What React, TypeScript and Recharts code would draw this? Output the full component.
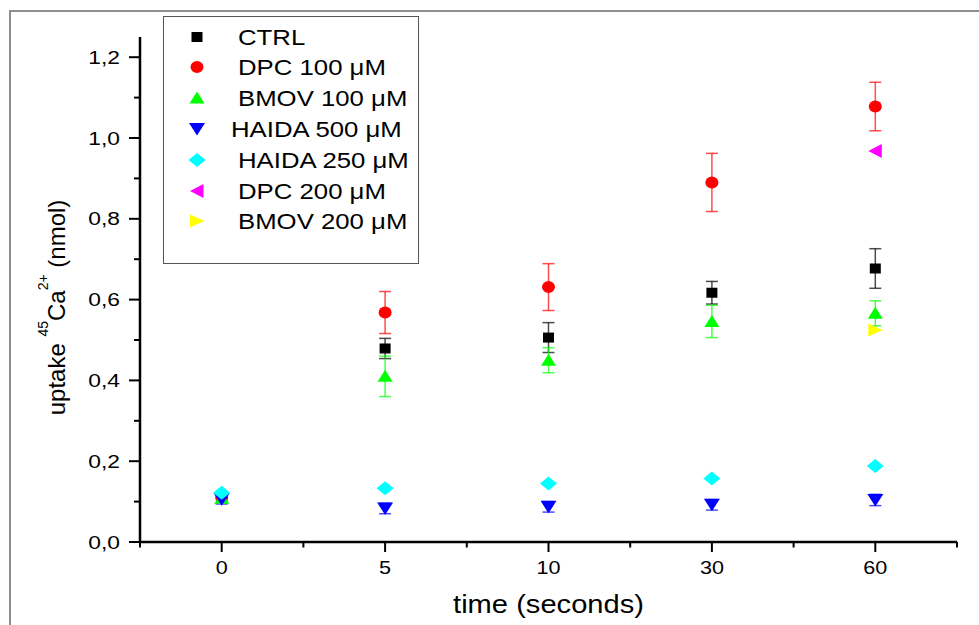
import React from 'react'
import { ScatterChart, Scatter, XAxis, YAxis, ErrorBar, Legend } from 'recharts'

// time points (seconds), evenly spaced on the axis
const categories = ['0', '5', '10', '30', '60']

const ctrl = [0.11, 0.479, 0.506, 0.617, 0.677]
const ctrlErr = [null, 0.025, 0.037, 0.028, 0.049]
const dpc100 = [0.11, 0.568, 0.631, 0.89, 1.078]
const dpc100Err = [null, 0.052, 0.058, 0.072, 0.06]
const bmov100 = [0.108, 0.41, 0.45, 0.546, 0.566]
const bmov100Err = [null, 0.05, 0.031, 0.04, 0.031]
const haida500 = [0.106, 0.083, 0.087, 0.092, 0.104]
const haida500Err = [0.012, 0.013, 0.013, 0.013, 0.014]
const haida250 = [0.122, 0.133, 0.145, 0.157, 0.188]
const dpc200 = [null, null, null, null, 0.968]
const bmov200 = [null, null, null, null, 0.525]

const yTicks = [0, 0.1, 0.2, 0.3, 0.4, 0.5, 0.6, 0.7, 0.8, 0.9, 1.0, 1.1, 1.2]
const xTicks = [-0.5, 0, 0.5, 1, 1.5, 2, 2.5, 3, 3.5, 4, 4.5]

const FONT = '"Liberation Sans", Arial, sans-serif'

type Shape = 'square' | 'circle' | 'up' | 'down' | 'diamond' | 'left' | 'right'

function toPoints(vals: (number | null)[], errs?: (number | null)[]) {
  return vals
    .map((y, i) => ({ x: i, y, err: errs ? errs[i] : null }))
    .filter((p) => p.y !== null)
}

const SERIES: { name: string; color: string; shape: Shape; data: any[]; textX: number }[] = [
  { name: 'CTRL', color: '#000000', shape: 'square', data: toPoints(ctrl, ctrlErr), textX: 74 },
  { name: 'DPC 100 μM', color: '#ff0000', shape: 'circle', data: toPoints(dpc100, dpc100Err), textX: 74 },
  { name: 'BMOV 100 μM', color: '#00ff00', shape: 'up', data: toPoints(bmov100, bmov100Err), textX: 74 },
  { name: 'HAIDA 500 μM', color: '#0000ff', shape: 'down', data: toPoints(haida500, haida500Err), textX: 67 },
  { name: 'HAIDA 250 μM', color: '#00ffff', shape: 'diamond', data: toPoints(haida250), textX: 74 },
  { name: 'DPC 200 μM', color: '#ff00ff', shape: 'left', data: toPoints(dpc200), textX: 74 },
  { name: 'BMOV 200 μM', color: '#ffff00', shape: 'right', data: toPoints(bmov200), textX: 74 },
]

function Marker({ shape, cx, cy, color }: { shape: Shape; cx: number; cy: number; color: string }) {
  switch (shape) {
    case 'square':
      return <rect x={cx - 5.5} y={cy - 5} width={11} height={10} fill={color} />
    case 'circle':
      return <ellipse cx={cx} cy={cy} rx={6.5} ry={6} fill={color} />
    case 'up':
      return <polygon points={`${cx - 7.5},${cy + 5.5} ${cx + 7.5},${cy + 5.5} ${cx},${cy - 6.5}`} fill={color} />
    case 'down':
      return <polygon points={`${cx - 8},${cy - 6} ${cx + 8},${cy - 6} ${cx},${cy + 6.5}`} fill={color} />
    case 'diamond':
      return <polygon points={`${cx},${cy - 7} ${cx + 8.5},${cy} ${cx},${cy + 7} ${cx - 8.5},${cy}`} fill={color} />
    case 'left':
      return <polygon points={`${cx - 7},${cy} ${cx + 6.5},${cy - 7} ${cx + 6.5},${cy + 7}`} fill={color} />
    case 'right':
      return <polygon points={`${cx + 7.5},${cy} ${cx - 7},${cy - 6.5} ${cx - 7},${cy + 6.5}`} fill={color} />
  }
  return null
}

const YTick = (props: any) => {
  const { x, y, payload } = props
  const major = Math.round(payload.value * 10) % 2 === 0
  return (
    <g>
      <line x1={x - (major ? 11 : 6)} x2={x} y1={y} y2={y} stroke="#000" strokeWidth={2} />
      {major && (
        <text
          transform={`translate(${x - 20},${y + 6.5}) scale(1.2,1)`}
          textAnchor="end"
          fontSize={19}
          fontFamily={FONT}
          fill="#000"
        >
          {payload.value.toFixed(1).replace('.', ',')}
        </text>
      )}
    </g>
  )
}

const XTick = (props: any) => {
  const { x, y, payload } = props
  const major = Number.isInteger(payload.value)
  return (
    <g>
      <line x1={x} x2={x} y1={y} y2={y + (major ? 10 : 5.5)} stroke="#000" strokeWidth={2} />
      {major && (
        <text
          transform={`translate(${x},${y + 32}) scale(1.2,1)`}
          textAnchor="middle"
          fontSize={18}
          fontFamily={FONT}
          fill="#000"
        >
          {categories[payload.value]}
        </text>
      )}
    </g>
  )
}

const XTitle = (props: any) => {
  const { viewBox } = props
  const cx = viewBox.x + viewBox.width / 2
  return (
    <text
      transform={`translate(${cx},${viewBox.y + 71}) scale(1.12,1)`}
      textAnchor="middle"
      fontSize={26}
      fontFamily={FONT}
      fill="#000"
    >
      time (seconds)
    </text>
  )
}

const YTitle = (props: any) => {
  const { viewBox } = props
  const x = viewBox.x + 25
  const y = viewBox.y + viewBox.height / 2 + 18
  return (
    <text
      transform={`translate(${x},${y}) rotate(-90)`}
      textAnchor="middle"
      fontSize={24}
      fontFamily={FONT}
      fill="#000"
    >
      {'uptake '}
      <tspan fontSize={14} dy={-17}>45</tspan>
      <tspan dy={17}>Ca</tspan>
      <tspan fontSize={14} dy={-17}>2+</tspan>
      <tspan dy={17}>{'  (nmol)'}</tspan>
    </text>
  )
}

const LegendBox = () => (
  <div
    style={{
      position: 'relative',
      width: 256,
      height: 248,
      border: '1.5px solid #555',
      background: '#fff',
      boxSizing: 'border-box',
    }}
  >
    {SERIES.map((s, i) => {
      const cy = 19.5 + i * 30.8
      return (
        <React.Fragment key={s.name}>
          <svg width={24} height={24} style={{ position: 'absolute', left: 21, top: cy - 12 }}>
            <Marker shape={s.shape} cx={12} cy={12} color={s.color} />
          </svg>
          <span
            style={{
              position: 'absolute',
              left: s.textX,
              top: cy - 14,
              lineHeight: '30px',
              fontSize: 22,
              fontFamily: FONT,
              color: '#000',
              whiteSpace: 'nowrap',
              transform: 'scaleX(1.17)',
              transformOrigin: 'left center',
            }}
          >
            {s.name}
          </span>
        </React.Fragment>
      )
    })}
  </div>
)

export default function App() {
  return (
    <div
      style={{
        position: 'fixed',
        left: 0,
        top: 0,
        width: 979,
        height: 625,
        overflow: 'hidden',
        background: '#fff',
      }}
    >
      <div
        style={{
          position: 'absolute',
          left: 9,
          top: 10,
          width: 1100,
          height: 800,
          border: '2px solid #8e8e8e',
        }}
      />
      <div style={{ position: 'absolute', left: 0, top: 0 }}>
        <ScatterChart width={979} height={625} margin={{ top: 37, right: 22, bottom: 23, left: 40 }}>
          <XAxis
            type="number"
            dataKey="x"
            domain={[-0.5, 4.5]}
            ticks={xTicks}
            interval={0}
            tickSize={0}
            tickMargin={0}
            tickLine={false}
            tick={<XTick />}
            height={60}
            axisLine={{ stroke: '#000', strokeWidth: 2.5 }}
            label={<XTitle />}
          />
          <YAxis
            type="number"
            dataKey="y"
            domain={[0, 1.25]}
            ticks={yTicks}
            interval={0}
            tickSize={0}
            tickMargin={0}
            tickLine={false}
            tick={<YTick />}
            width={100}
            axisLine={{ stroke: '#000', strokeWidth: 2.5 }}
            label={<YTitle />}
          />
          <Legend
            layout="vertical"
            align="center"
            verticalAlign="middle"
            content={<LegendBox />}
            wrapperStyle={{ left: 163, top: 16, right: 'auto', bottom: 'auto', width: 256, height: 248 }}
          />
          {SERIES.map((s) => (
            <Scatter
              key={s.name}
              name={s.name}
              data={s.data}
              fill={s.color}
              isAnimationActive={false}
              shape={(p: any) => <Marker shape={s.shape} cx={p.cx} cy={p.cy} color={s.color} />}
            >
              <ErrorBar
                dataKey="err"
                direction="y"
                width={6}
                stroke={s.color}
                strokeOpacity={0.7}
                strokeWidth={1.5}
                isAnimationActive={false}
              />
            </Scatter>
          ))}
        </ScatterChart>
      </div>
    </div>
  )
}
